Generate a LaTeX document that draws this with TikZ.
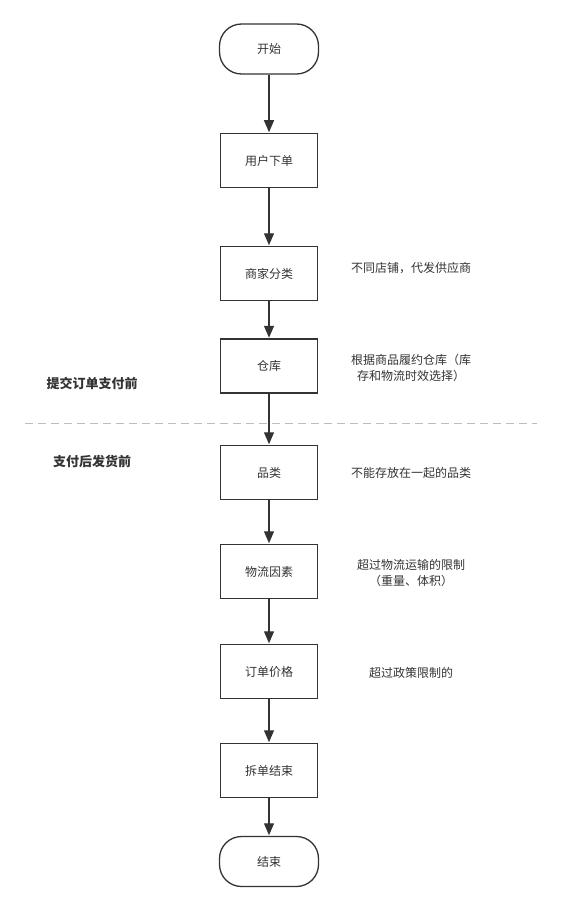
\documentclass[tikz,border=0pt]{standalone}
\usepackage{fontspec}
\setmainfont{Noto Sans CJK SC}
\usetikzlibrary{arrows.meta}
\definecolor{ink}{HTML}{333333}
\definecolor{pinkline}{RGB}{230,110,106}
\tikzset{
  box/.style={draw=ink, line width=1.3pt, fill=white, minimum width=97pt, minimum height=54pt, inner sep=0pt, text=ink, font=\fontsize{12}{14}\selectfont},
  term/.style={box, rounded corners=22pt, minimum width=99pt, minimum height=50pt},
  flow/.style={draw=ink, line width=1.3pt, -{Triangle[length=12pt,width=10pt]}, shorten >=0.6pt},
  note/.style={text=ink, font=\fontsize{12}{16}\selectfont, align=center, inner sep=0pt},
  phase/.style={text=ink, font=\fontsize{13}{16}\selectfont\bfseries, inner sep=0pt},
  divider/.style={draw=pinkline, draw opacity=0.6, line width=1.8pt, dash pattern=on 8pt off 5pt},
}
\begin{document}
\begin{tikzpicture}[x=1pt,y=-1pt]
\useasboundingbox (0,0) rectangle (561,912);
\node[term] (start) at (269,49) {开始};
\node[box] (n1) at (269,160.5) {用户下单};
\node[box] (n2) at (269,273.5) {商家分类};
\node[box] (n3) at (269,366) {仓库};
\node[box] (n4) at (269,472.5) {品类};
\node[box] (n5) at (269,571.5) {物流因素};
\node[box] (n6) at (269,671.5) {订单价格};
\node[box] (n7) at (269,770.5) {拆单结束};
\node[term] (end) at (269,861.5) {结束};
\draw[flow] (start) -- (n1);
\draw[flow] (n1) -- (n2);
\draw[flow] (n2) -- (n3);
\draw[flow] (n3) -- (n4);
\draw[flow] (n4) -- (n5);
\draw[flow] (n5) -- (n6);
\draw[flow] (n6) -- (n7);
\draw[flow] (n7) -- (end);
\coordinate (dl) at (25,423.5);
\coordinate (dr) at (537,423.5);
\draw[divider] (dl) -- (dr);
\node[note] (a2) at (411,268) {不同店铺，代发供应商};
\node[note] (a3) at (411,367.5) {根据商品履约仓库（库\\存和物流时效选择）};
\node[note] (a4) at (411,473) {不能存放在一起的品类};
\node[note] (a5) at (411,573.5) {超过物流运输的限制\\（重量、体积）};
\node[note] (a6) at (411,673) {超过政策限制的};
\node[phase] (p1) at (92,383) {提交订单支付前};
\node[phase] (p2) at (92,462) {支付后发货前};
\end{tikzpicture}
\end{document}
